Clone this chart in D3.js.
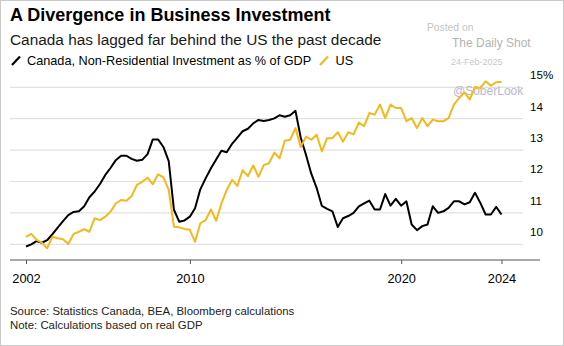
<!DOCTYPE html>
<html>
<head>
<meta charset="utf-8">
<script src="https://cdn.jsdelivr.net/npm/d3@7"></script>
<style>
body { margin: 0; background: #fff; }
svg { display: block; font-family: "Liberation Sans", Arial, Helvetica, sans-serif; }
</style>
</head>
<body>
<div id="chart"></div>
<script>

// quarterly, first value is 2002 Q1, last is 2024 Q3
var firstYear = 2002;

var canada = [
    9.93, 10.0, 10.1, 10.05, 10.13, 10.32, 10.53, 10.74, 10.93, 11.03,
    11.05, 11.21, 11.5, 11.68, 11.92, 12.21, 12.43, 12.68, 12.82, 12.82,
    12.72, 12.66, 12.69, 12.87, 13.34, 13.34, 13.1, 12.65, 11.1, 10.72,
    10.76, 10.88, 11.15, 11.75, 12.1, 12.42, 12.7, 12.98, 12.93, 13.2,
    13.4, 13.6, 13.68, 13.85, 13.96, 13.93, 13.96, 14.01, 14.11, 14.06,
    14.11, 14.25, 13.4, 12.85, 12.25, 11.8, 11.22, 11.13, 11.05, 10.55,
    10.83, 10.9, 11.0, 11.21, 11.3, 11.39, 11.11, 11.11, 11.6, 11.23,
    11.45, 11.23, 11.37, 10.63, 10.45, 10.58, 10.63, 11.21, 11.0, 11.05,
    11.16, 11.37, 11.37, 11.27, 11.34, 11.64, 11.32, 10.95, 10.95, 11.19,
    10.95
];

var us = [
    10.24, 10.33, 10.14, 10.05, 9.87, 10.24, 10.19, 10.16, 10.01, 10.33,
    10.40, 10.48, 10.40, 10.83, 10.77, 10.88, 11.04, 11.30, 11.41, 11.39,
    11.54, 11.89, 11.99, 12.12, 11.91, 12.23, 12.13, 11.73, 10.56, 10.54,
    10.49, 10.46, 10.08, 10.67, 10.77, 11.11, 10.75, 11.30, 11.73, 12.05,
    11.86, 12.36, 12.17, 12.51, 12.15, 12.52, 12.58, 12.92, 12.74, 13.30,
    13.33, 13.70, 13.10, 13.43, 13.33, 13.49, 12.96, 13.38, 13.38, 13.57,
    13.27, 13.57, 13.50, 13.88, 13.76, 14.18, 14.13, 14.45, 14.02, 14.45,
    14.34, 14.34, 13.92, 14.02, 13.70, 14.02, 13.76, 13.97, 13.92, 13.92,
    14.02, 14.45, 14.66, 14.84, 14.61, 15.01, 14.98, 15.19, 15.05, 15.16,
    15.17
];

var yTicks = [10, 11, 12, 13, 14, 15];
var xTickYears = [2010, 2020]; // plus first and last quarter

var seriesNames = ["Canada, Non-Residential Investment as % of GDP", "US"];
var colors = ["#000000", "#f4b81c"];

var width = 564,
    height = 346;

// quarter end dates
var dates = canada.map(function (d, i) {
    return new Date(Date.UTC(firstYear, 3 * (i + 1), 0));
});

var svg = d3.select("#chart").append("svg")
    .attr("width", width)
    .attr("height", height);

svg.append("rect")
    .attr("x", 0.5).attr("y", 0.5)
    .attr("width", width - 1).attr("height", height - 1)
    .attr("fill", "#fff")
    .attr("stroke", "#c9c9c9");

var x = d3.scaleUtc()
    .domain([dates[0], dates[dates.length - 1]])
    .range([26, 501.5]);

var y = d3.scaleLinear()
    .domain([10, 15])
    .range([244.3, 87.3]);

// titles
svg.append("text")
    .attr("x", 10).attr("y", 21)
    .attr("font-size", 18).attr("font-weight", "bold")
    .attr("fill", "#000")
    .text("A Divergence in Business Investment");

svg.append("text")
    .attr("x", 10).attr("y", 44.5)
    .attr("font-size", 15.4)
    .attr("fill", "#1a1a1a")
    .text("Canada has lagged far behind the US the past decade");

// legend
var legend = svg.append("g");
legend.append("line")
    .attr("x1", 12).attr("y1", 65).attr("x2", 20).attr("y2", 56.5)
    .attr("stroke", colors[0]).attr("stroke-width", 2.2);
legend.append("text")
    .attr("x", 27).attr("y", 64.5)
    .attr("font-size", 12.7).attr("fill", "#000")
    .text(seriesNames[0]);
legend.append("line")
    .attr("x1", 320).attr("y1", 65).attr("x2", 328).attr("y2", 56.5)
    .attr("stroke", colors[1]).attr("stroke-width", 2.2);
legend.append("text")
    .attr("x", 335.5).attr("y", 64.5)
    .attr("font-size", 12.7).attr("fill", "#000")
    .text(seriesNames[1]);

// watermark
svg.append("text").attr("x", 427).attr("y", 30.5)
    .attr("font-size", 10.3).attr("fill", "#c4c4c4").text("Posted on");
svg.append("text").attr("x", 452).attr("y", 47)
    .attr("font-size", 12).attr("fill", "#b3b3b3").text("The Daily Shot");
svg.append("text").attr("x", 451).attr("y", 64.5)
    .attr("font-size", 9).attr("fill", "#c8c8c8").text("24-Feb-2025");

// grid
var grid = svg.append("g");
grid.selectAll("line")
    .data(yTicks)
    .enter().append("line")
    .attr("x1", 10).attr("x2", 523)
    .attr("y1", function (d) { return y(d); })
    .attr("y2", function (d) { return y(d); })
    .attr("stroke", "#e1e1e1")
    .attr("stroke-width", 1.2);

grid.selectAll("text")
    .data(yTicks)
    .enter().append("text")
    .attr("x", 530)
    .attr("y", function (d) { return y(d) - 8.2; })
    .attr("font-size", 11.6)
    .attr("fill", "#000")
    .text(function (d) { return d === 15 ? d + "%" : d; });

svg.append("text").attr("x", 453).attr("y", 95)
    .attr("font-size", 12).attr("fill", "#b8b8cc").text("@SoberLook");

// x axis
var tickDates = [dates[0]]
    .concat(xTickYears.map(function (yr) { return new Date(Date.UTC(yr, 0, 1)); }))
    .concat([dates[dates.length - 1]]);

svg.append("line")
    .attr("x1", 10).attr("x2", 540)
    .attr("y1", 260).attr("y2", 260)
    .attr("stroke", "#555").attr("stroke-width", 1.2);

var xAxis = svg.append("g")
    .attr("transform", "translate(0,260)")
    .call(d3.axisBottom(x)
        .tickValues(tickDates)
        .tickFormat(d3.utcFormat("%Y"))
        .tickSize(4)
        .tickPadding(10));

xAxis.select(".domain").remove();
xAxis.selectAll(".tick line").attr("stroke", "#555");
xAxis.selectAll(".tick text")
    .attr("font-family", "Liberation Sans, Arial, sans-serif")
    .attr("font-size", 12.8)
    .attr("fill", "#000");

// lines
var line = d3.line()
    .x(function (d, i) { return x(dates[i]); })
    .y(function (d) { return y(d); });

svg.append("path")
    .datum(canada)
    .attr("d", line)
    .attr("fill", "none")
    .attr("stroke", colors[0])
    .attr("stroke-width", 2)
    .attr("stroke-linejoin", "round");

svg.append("path")
    .datum(us)
    .attr("d", line)
    .attr("fill", "none")
    .attr("stroke", colors[1])
    .attr("stroke-width", 2)
    .attr("stroke-linejoin", "round");

// footer
svg.append("text").attr("x", 10).attr("y", 315)
    .attr("font-size", 11.4).attr("fill", "#222")
    .text("Source: Statistics Canada, BEA, Bloomberg calculations");
svg.append("text").attr("x", 10).attr("y", 328.5)
    .attr("font-size", 11.4).attr("fill", "#222")
    .text("Note: Calculations based on real GDP");

</script>
</body>
</html>
